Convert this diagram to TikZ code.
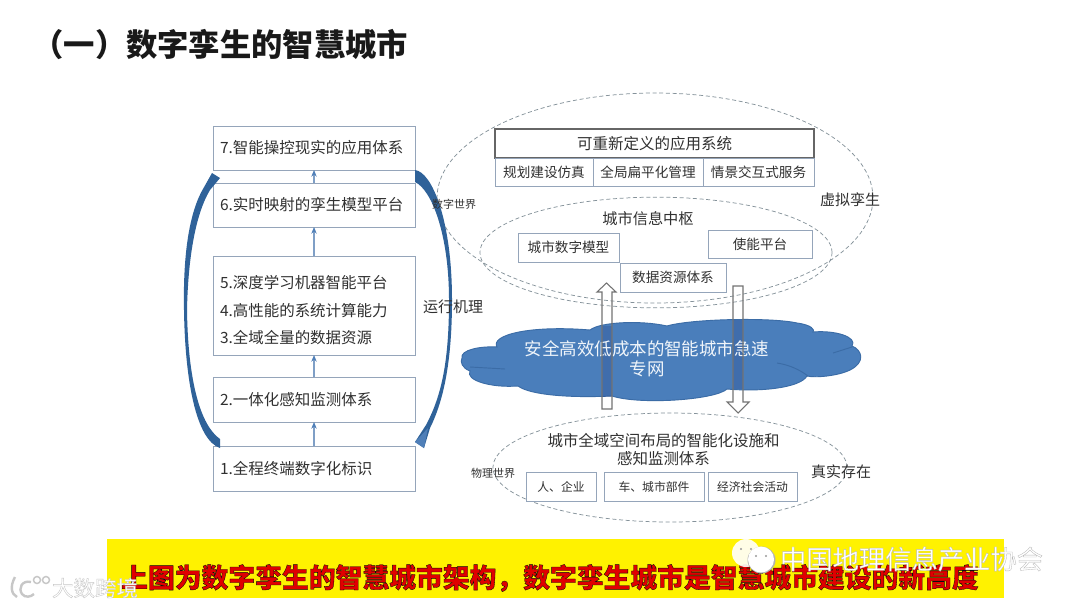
\documentclass[tikz,border=0pt]{standalone}
\usepackage{fontspec}
\setmainfont{Noto Sans CJK SC}
\usetikzlibrary{shapes.geometric,arrows.meta}
\newcommand{\fs}[1]{\fontsize{\dimexpr #1pt*3/4\relax}{\dimexpr #1pt*9/8\relax}\selectfont}
\newcommand{\edgetext}[3]{\special{pdf:code q 2 Tr #1 w #2 G}#3\special{pdf:code Q}}
\definecolor{boxline}{HTML}{95A5BA}
\definecolor{arrowblue}{HTML}{7F9FC6}
\definecolor{headblue}{HTML}{4F7FB8}
\definecolor{curveblue}{HTML}{2F6299}
\definecolor{cloudblue}{HTML}{4A7EBB}
\definecolor{cloudedge}{HTML}{3B6CA6}
\definecolor{inktext}{HTML}{303030}
\definecolor{dashgray}{HTML}{85929A}
\tikzset{
  x=0.75pt,y=-0.75pt,
  every node/.style={text=inktext,inner sep=0pt,outer sep=0pt},
  leftbox/.style={draw=boxline,line width=0.75pt,fill=white,minimum width=151.5pt,text width=141pt,align=left,font=\fs{15.5}},
  smallbox/.style={draw=boxline,line width=0.75pt,fill=white,align=center,font=\fs{13.6}},
  lowbox/.style={draw=boxline,line width=0.75pt,fill=white,align=center,font=\fs{11.8}},
  headbox/.style={draw=black!60,line width=0.85pt,fill=white,align=center,font=\fs{15.5}},
  loop/.style={draw=dashgray,line width=0.55pt,dash pattern=on 3pt off 2pt,ellipse,fill=none},
  flow/.style={draw=arrowblue,line width=0.8pt,-{Stealth[length=5pt,width=4pt,color=headblue]}},
  side/.style={font=\fs{15}},
  tiny/.style={font=\fs{11}},
  blockarrow/.style={draw=black!55,line width=0.8pt},
  shade/.style={fill=black!70!blue,fill opacity=0.13},
}
\begin{document}
\begin{tikzpicture}
\useasboundingbox (0,0) rectangle (1080,607);
\fill[white] (0,0) rectangle (1080,607);
% title
\node[anchor=east,font=\fs{31.3}\bfseries,text=black!90] (title) at (408,45) {（一）数字孪生的智慧城市};
% ellipses
\node[loop,minimum width=327pt,minimum height=157.5pt] (virtual) at (655,198) {};
\node[loop,minimum width=264pt,minimum height=83pt] (hub) at (656,252.5) {};
\node[loop,minimum width=265.5pt,minimum height=81.75pt] (physical) at (670,467.5) {};
% left column
\node[leftbox,minimum height=33pt] (b7) at (314,148) {7.智能操控现实的应用体系};
\node[leftbox,minimum height=33pt] (b6) at (314,205) {6.实时映射的孪生模型平台};
\node[leftbox,minimum height=74.25pt,font=\fontsize{11.6pt}{20.6pt}\selectfont] (b5) at (314,305.5) {\rule{0pt}{17pt}5.深度学习机器智能平台\\4.高性能的系统计算能力\\3.全域全量的数据资源};
\node[leftbox,minimum height=33.75pt] (b2) at (314,399.5) {2.一体化感知监测体系};
\node[leftbox,minimum height=33.75pt] (b1) at (314,468.5) {1.全程终端数字化标识};
\draw[flow] (b1) -- (b2);
\draw[flow] (b2) -- (b5);
\draw[flow] (b5) -- (b6);
\draw[flow] (b6) -- (b7);
% curved arrows
\fill[curveblue] (220,448) .. controls (196,440) and (185,380) .. (184,310)
  .. controls (183,260) and (188,215) .. (203,189) -- (212,173) -- (220,178) -- (210,190)
  .. controls (195,215) and (188,260) .. (187,310)
  .. controls (188,380) and (200,425) .. (220,439) -- cycle;
\fill[curveblue] (415,170) .. controls (432,172) and (452,220) .. (452,300)
  .. controls (452,360) and (444,400) .. (430,428) -- (424,448) -- (415,442) -- (426,425)
  .. controls (442,395) and (449,360) .. (449,300)
  .. controls (449,235) and (432,190) .. (415,182) -- cycle;
\fill[headblue] (428,428) -- (424,448) -- (415,442) -- cycle;
\node[side] (mech) at (453,307) {运行机理};
\node[tiny] (digi) at (454,204) {数字世界};
% right top
\node[headbox,minimum width=239.25pt,minimum height=21.75pt] (app) at (654.5,143.5) {可重新定义的应用系统};
\node[smallbox,minimum width=73.5pt,minimum height=21pt] (a1) at (544,172) {规划建设仿真};
\node[smallbox,minimum width=82.5pt,minimum height=21pt] (a2) at (648,172) {全局扁平化管理};
\node[smallbox,minimum width=83.25pt,minimum height=21pt] (a3) at (758.5,172) {情景交互式服务};
\node[side] (vtwin) at (850,200) {虚拟孪生};
\node[font=\fs{15.2}] (hubt) at (648,219) {城市信息中枢};
\node[smallbox,minimum width=75.75pt,minimum height=21.75pt] (c1) at (568.5,247.5) {城市数字模型};
\node[smallbox,minimum width=78pt,minimum height=21pt] (c2) at (760,244) {使能平台};
\node[smallbox,minimum width=79.5pt,minimum height=21.75pt] (c3) at (673,277.5) {数据资源体系};
% cloud
\path[fill=cloudblue,draw=cloudedge,line width=0.7pt] (462,358)
 .. controls (460,350) and (480,346) .. (497,347)
 .. controls (490,335) and (530,325) .. (590,330)
 .. controls (600,322) and (640,320) .. (667,326)
 .. controls (690,319) and (770,317) .. (797,323)
 .. controls (812,325) and (815,330) .. (813,332)
 .. controls (835,330) and (858,337) .. (852,346)
 .. controls (862,350) and (866,362) .. (850,370)
 .. controls (838,376) and (815,378) .. (807,376)
 .. controls (800,388) and (760,392) .. (727,389)
 .. controls (715,400) and (640,405) .. (612,396)
 .. controls (570,398) and (530,395) .. (518,386)
 .. controls (490,388) and (465,380) .. (470,371)
 .. controls (462,368) and (460,362) .. (462,358) -- cycle;
\draw[cloudedge,line width=0.7pt] (470,367) -- (505,369) (777,363) .. controls (790,365) and (800,370) .. (808,376) (833,353) -- (852,347);
% block arrows: tint inside the cloud
\fill[shade] (602,326) rectangle (612,397);
\fill[shade] (733,320) rectangle (743,389);
\node[text=white!92!cloudblue,align=center,font=\fontsize{13.1pt}{15pt}\selectfont] (net) at (647,358.5) {安全高效低成本的智能城市急速\\专网};
\draw[blockarrow] (602,409) -- (612,409) -- (612,292) -- (616,292) -- (606.5,283) -- (597,292) -- (602,292) -- cycle;
\draw[blockarrow] (733,286) -- (743,286) -- (743,402) -- (749,402) -- (738,413) -- (727,402) -- (733,402) -- cycle;
% bottom
\node[align=center,font=\fontsize{11.6pt}{13.5pt}\selectfont] (phys) at (663.5,450) {城市全域空间布局的智能化设施和\\感知监测体系};
\node[lowbox,minimum width=52.5pt,minimum height=21.75pt] (p1) at (561,486.5) {人、企业};
\node[lowbox,minimum width=75pt,minimum height=21.75pt] (p2) at (654,486.5) {车、城市部件};
\node[lowbox,minimum width=66.75pt,minimum height=21.75pt] (p3) at (752.5,486.5) {经济社会活动};
\node[tiny] (pw) at (493,473) {物理世界};
\node[side] (real) at (841,472) {真实存在};
% banner
\fill[yellow] (107,539) rectangle (1004,598);
\node[font=\fs{26.8}\bfseries,text=red!88!black] (cap) at (550,578) {\edgetext{0.25}{0.6 0.05 0.05}{上图为数字孪生的智慧城市架构，数字孪生城市是智慧城市建设的新高度}};
% watermarks
\fill[white,opacity=0.9] (746,553) ellipse (14 and 14);
\fill[black!30] (761.5,560) ellipse (14 and 13.5);
\fill[white] (761,559.5) ellipse (13 and 13);
\fill[black!40] (741,549) circle (1.2) (751,549) circle (1.2) (756,556) circle (1.2) (766,556) circle (1.2);
\node[font=\fs{26.3},text=white] (w1) at (911.5,559) {\edgetext{0.25}{0.72 0.72 0.72}{中国地理信息产业协会}};
\node[font=\fs{21.5},text=white] (w2) at (95,588) {\edgetext{0.3}{0.78 0.78 0.78}{大数跨境}};
\draw[black!22,line width=1.8pt] (15,577) .. controls (10,586) and (11,594) .. (17,597);
\draw[black!22,line width=1.8pt] (31,582) .. controls (22,580) and (18,588) .. (22,594) .. controls (25,598) and (31,597) .. (34,594);
\draw[black!22,line width=1.1pt] (37,580) circle (3.5) (46,580) circle (3.5);
\end{tikzpicture}
\end{document}
